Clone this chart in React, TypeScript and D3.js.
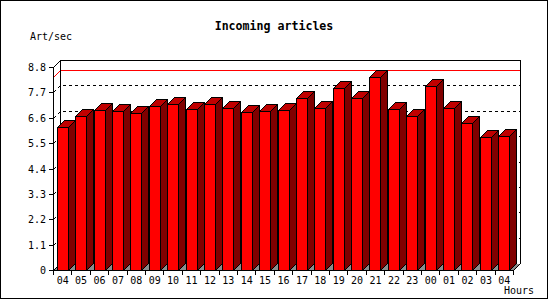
import React from "react";
import * as d3 from "d3";

const hours = ["04","05","06","07","08","09","10","11","12","13","14","15","16","17","18","19","20","21","22","23","00","01","02","03","04"];
const artPerSec = [6.21,6.68,6.94,6.89,6.81,7.11,7.20,6.98,7.20,7.01,6.84,6.89,6.93,7.44,7.01,7.88,7.44,8.35,6.97,6.68,7.98,7.01,6.36,5.75,5.80];
const yTicks = [0,1.1,2.2,3.3,4.4,5.5,6.6,7.7,8.8];
const yTickLabels = ["0","1.1","2.2","3.3","4.4","5.5","6.6","7.7","8.8"];
const title = "Incoming articles";
const yTitle = "Art/sec";
const xTitle = "Hours";

const W = 550, H = 300;
const left = 53, right = 513, bottom = 270, top = 67;
const depth = 7;
const barW = 11;
const font = "'DejaVu Sans Mono', 'Liberation Mono', monospace";

export default function App() {
  const x = d3.scaleBand<number>().domain(d3.range(hours.length)).range([left, right]).padding(0);
  const y = d3.scaleLinear().domain([0, 8.8]).range([bottom, top]);
  const maxV = d3.max(artPerSec) as number;
  const bx = (i: number) => Math.round((x(i) as number) + x.bandwidth() / 2 - barW / 2) + 0.5;
  const ry = (v: number) => Math.round(y(v)) + 0.5;
  const backR = right + depth + 0.5;
  const yTop = ry(8.8);
  const yBot = bottom + 0.5;

  return (
    <svg width={W} height={H} style={{ position: "absolute", left: 0, top: 0, background: "#fff" }} shapeRendering="crispEdges">
      <rect x={0.5} y={0.5} width={547} height={298} fill="#fff" stroke="#000" />
      <text x={274} y={30} textAnchor="middle" fontFamily={font} fontWeight="bold" fontSize={11.6}>{title}</text>
      <text x={30} y={40} fontFamily={font} fontSize={10}>{yTitle}</text>
      <text x={504} y={294} fontFamily={font} fontSize={10}>{xTitle}</text>

      {/* floor */}
      <polygon points={`${left + 0.5},${yBot} ${left + depth + 0.5},${yBot - depth} ${backR},${yBot - depth} ${right + 0.5},${yBot}`} fill="#8c8c8c" stroke="none" />

      {/* gridlines */}
      {yTicks.slice(1, -1).map((t, i) => {
        const yy = ry(t);
        return <path key={"g" + i} d={`M${left + 0.5},${yy} L${left + depth + 0.5},${yy - depth} L${backR},${yy - depth}`} fill="none" stroke="#000" strokeDasharray="3,3" />;
      })}

      {/* max line */}
      {(() => {
        const yy = ry(maxV);
        return <path d={`M${left + 0.5},${yy} L${left + depth + 0.5},${yy - depth} L${backR},${yy - depth}`} fill="none" stroke="#ff0000" />;
      })()}

      {/* back plane frame */}
      <path d={`M${left + 0.5},${yTop} L${left + depth + 0.5},${yTop - depth} L${backR},${yTop - depth} L${backR},${yBot - depth} L${right + 0.5},${yBot}`} fill="none" stroke="#000" />
      <path d={`M${left + depth + 0.5},${yTop - depth} L${left + depth + 0.5},${yBot - depth}`} fill="none" stroke="#000" />
      <path d={`M${left + 0.5},${yBot} L${left + depth + 0.5},${yBot - depth}`} fill="none" stroke="#000" />

      {/* bars */}
      {artPerSec.map((v, i) => {
        const x0 = bx(i);
        const x1 = x0 + barW;
        const yt = ry(v);
        return (
          <g key={"b" + i} stroke="#000">
            <polygon points={`${x1},${yt} ${x1 + depth},${yt - depth} ${x1 + depth},${yBot - depth} ${x1},${yBot}`} fill="#800000" />
            <polygon points={`${x0},${yt} ${x0 + depth},${yt - depth} ${x1 + depth},${yt - depth} ${x1},${yt}`} fill="#c00000" />
            <rect x={x0} y={yt} width={barW} height={yBot - yt} fill="#ff0000" />
          </g>
        );
      })}

      {/* front axes */}
      <path d={`M${left + 0.5},${yTop} L${left + 0.5},${yBot} L${right + 0.5},${yBot}`} fill="none" stroke="#000" />
      {yTicks.map((t, i) => (
        <g key={"yt" + i}>
          <line x1={left - 4} x2={left + 0.5} y1={ry(t)} y2={ry(t)} stroke="#000" />
          <text x={46} y={ry(t) + 3.5} textAnchor="end" fontFamily={font} fontSize={10}>{yTickLabels[i]}</text>
        </g>
      ))}
      {d3.range(hours.length + 1).map((i) => {
        const xx = Math.round(left + i * x.step()) + 0.5;
        return <line key={"xt" + i} x1={xx} x2={xx} y1={yBot} y2={yBot + 4} stroke="#000" />;
      })}
      {hours.map((h, i) => (
        <text key={"xl" + i} x={(x(i) as number) + x.bandwidth() / 2 + 0.5} y={284} textAnchor="middle" fontFamily={font} fontSize={10}>{h}</text>
      ))}
    </svg>
  );
}
